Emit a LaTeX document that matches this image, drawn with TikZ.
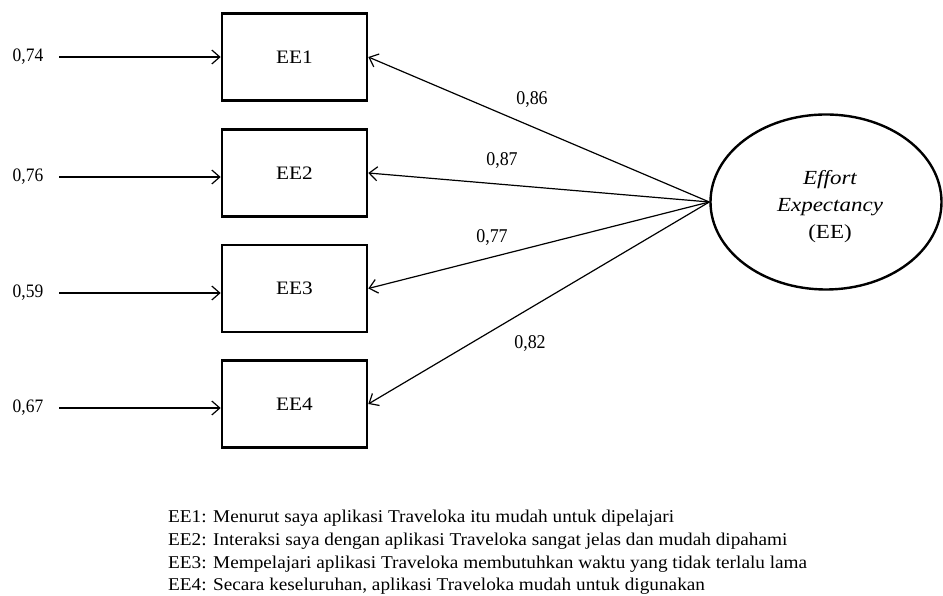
\documentclass[tikz,border=0pt]{standalone}
\usepackage{fontspec}
\setmainfont{Liberation Serif}
\newfontfamily\wideserif{Liberation Serif}[FakeStretch=1.15]
\newfontfamily\boxserif{Liberation Serif}[FakeStretch=1.12]
\newfontfamily\legendserif{Liberation Serif}[FakeStretch=1.07]
\newfontfamily\numserif{Liberation Serif}[FakeStretch=0.92]
\usetikzlibrary{arrows.meta,shapes.geometric}

\tikzset{
  indicator/.style={draw, line width=2.6pt, minimum width=145pt, minimum height=87pt,
    inner sep=0pt, font=\boxserif\fontsize{19}{23}\selectfont},
  construct/.style={draw, ellipse, line width=2.4pt, minimum width=231pt, minimum height=175pt,
    inner sep=0pt},
  constructtext/.style={inner sep=0pt, align=center, font=\wideserif\fontsize{20}{27}\selectfont},
  errlabel/.style={font=\numserif\fontsize{19}{22}\selectfont, inner sep=0pt},
  loadlabel/.style={font=\numserif\fontsize{19.5}{22}\selectfont, inner sep=0pt},
  legendline/.style={font=\legendserif\fontsize{18}{21}\selectfont, inner sep=0pt, anchor=base west},
  path arrow/.style={line width=1.2pt, -{Straight Barb[length=8pt,width=14pt,line width=1.2pt]}},
}

\begin{document}
\begin{tikzpicture}[x=1pt,y=1pt]
  \useasboundingbox (0,0) rectangle (943,596);

  % observed indicators
  \node[indicator] (ee1) at (294.5,539) {EE1};
  \node[indicator] (ee2) at (294.5,423) {EE2};
  \node[indicator] (ee3) at (294.5,307.5) {EE3};
  \node[indicator] (ee4) at (294.5,192) {EE4};

  % latent construct
  \node[construct] (ee) at (826,394) {};
  \node[constructtext] (eelabel) at (830,389) {\itshape Effort\\\itshape Expectancy\\(EE)};

  % error terms
  \node[errlabel] (e1) at (28,539) {0,74};
  \node[errlabel] (e2) at (28,419) {0,76};
  \node[errlabel] (e3) at (28,303) {0,59};
  \node[errlabel] (e4) at (28,188) {0,67};

  \foreach \i in {1,...,4} {
    \draw[path arrow] ([xshift=16pt]e\i.east) -- (e\i.east -| ee\i.west);
  }

  % factor loadings
  \foreach \i in {1,...,4} {
    \draw[path arrow] (ee.west) -- (ee\i.east);
  }
  \node[loadlabel] (l1) at (532,496) {0,86};
  \node[loadlabel] (l2) at (502,435) {0,87};
  \node[loadlabel] (l3) at (492,358) {0,77};
  \node[loadlabel] (l4) at (530,252) {0,82};

  % item wording
  \node[legendline] (t1) at (168,73) {EE1: Menurut saya aplikasi Traveloka itu mudah untuk dipelajari};
  \node[legendline] (t2) at (168,50.4) {EE2: Interaksi saya dengan aplikasi Traveloka sangat jelas dan mudah dipahami};
  \node[legendline] (t3) at (168,27.8) {EE3: Mempelajari aplikasi Traveloka membutuhkan waktu yang tidak terlalu lama};
  \node[legendline] (t4) at (168,5.2) {EE4: Secara keseluruhan, aplikasi Traveloka mudah untuk digunakan};
\end{tikzpicture}
\end{document}
